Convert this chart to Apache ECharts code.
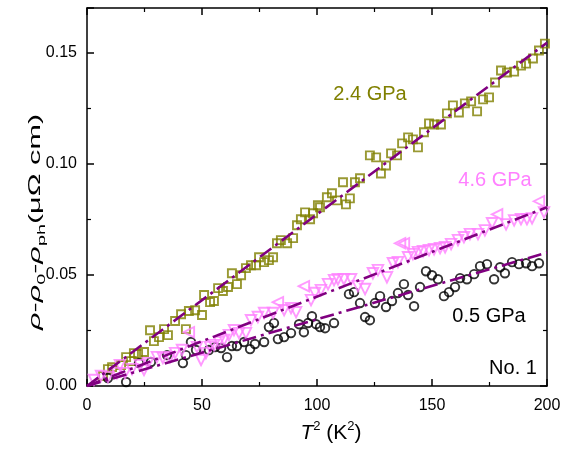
<!DOCTYPE html>
<html>
<head>
<meta charset="utf-8">
<title>rho vs T2</title>
<script src="https://cdn.jsdelivr.net/npm/echarts@6/dist/echarts.min.js"></script>
<style>
  html, body { margin: 0; padding: 0; background: #fff; }
  #main { width: 580px; height: 449px; }
</style>
</head>
<body>
<div id="main"></div>
<script>
// ---- data: [T^2 (K^2), rho (uOhm cm)] ----
var p24 = [
  [7.0,0.0045],[9.1,0.0076],[10.9,0.0085],[14.8,0.0094],[17.0,0.013],[19.1,0.0112],[20.4,0.0148],
  [22.2,0.0144],[24.8,0.0153],[27.4,0.0251],[29.1,0.0202],[31.3,0.022],[33.5,0.0256],[35.2,0.0229],
  [38.3,0.0292],[40.9,0.0323],[43.0,0.0256],[44.3,0.0337],[47.0,0.0341],[50.0,0.0319],[50.9,0.0409],
  [53.5,0.0377],[55.2,0.0382],[57.0,0.044],[59.1,0.0427],[61.3,0.0445],[63.0,0.0507],[65.2,0.0458],
  [67.0,0.0498],[69.1,0.053],[71.3,0.0543],[73.5,0.0543],[74.8,0.0579],[77.0,0.0557],[79.1,0.0566],
  [80.9,0.0579],[82.6,0.0642],[84.3,0.0656],[87.0,0.0642],[89.6,0.0665],[91.3,0.0723],[93.0,0.075],
  [94.8,0.0781],[97.0,0.075],[98.3,0.0777],[100.4,0.0813],[101.3,0.0804],[104.3,0.0849],[106.5,0.0867],
  [108.7,0.0835],[111.3,0.0916],[112.6,0.0817],[114.3,0.0844],[116.5,0.0916],[118.7,0.0934],
  [123.0,0.1037],[125.7,0.1028],[127.8,0.0956],[130.0,0.0992],[132.2,0.1046],[134.8,0.1037],
  [137.0,0.1091],[139.6,0.1118],[141.7,0.1109],[143.9,0.1073],[146.5,0.1141],[148.7,0.1181],
  [150.9,0.1176],[153.9,0.1176],[156.5,0.1226],[159.1,0.1262],[161.7,0.123],[164.3,0.1271],
  [167.0,0.128],[169.6,0.1235],[172.2,0.1289],[174.8,0.1298],[177.4,0.1365],[180.0,0.1419],
  [182.6,0.141],[185.7,0.1414],[188.7,0.1441],[190.9,0.145],[193.9,0.1473],[196.5,0.1509],[199.1,0.154]
];

var p05 = [
  [9.1,0.0036],[17.0,0.0018],[22.6,0.0103],[27.8,0.0108],[34.8,0.0139],[41.7,0.0103],[43.0,0.0139],
  [45.2,0.0198],[47.4,0.0162],[53.0,0.0162],[55.7,0.0175],[58.3,0.0171],[60.9,0.013],[63.0,0.018],
  [65.2,0.018],[68.3,0.0198],[70.9,0.0166],[73.0,0.0189],[77.0,0.0198],[79.1,0.0265],[81.3,0.0283],
  [83.0,0.0211],[85.7,0.022],[88.7,0.0238],[92.2,0.0278],[94.3,0.0242],[96.1,0.0283],[97.8,0.0314],
  [99.6,0.0278],[101.3,0.0265],[103.5,0.026],[107.4,0.0283],[113.9,0.0413],[116.1,0.0422],
  [118.7,0.0373],[120.9,0.031],[123.0,0.0296],[125.2,0.0373],[127.4,0.0404],[130.0,0.0355],
  [132.6,0.0382],[135.2,0.0418],[137.8,0.0458],[139.6,0.0409],[142.2,0.0359],[144.8,0.0445],
  [147.4,0.0516],[150.0,0.0498],[152.6,0.048],[155.2,0.0404],[157.4,0.0422],[160.0,0.0445],
  [162.2,0.0485],[165.2,0.048],[168.3,0.0503],[170.9,0.0539],[173.9,0.0548],[177.0,0.048],
  [179.6,0.0534],[181.7,0.0507],[184.8,0.0557],[187.8,0.0548],[190.9,0.0552],[193.5,0.0539],[196.5,0.0552]
];

// 4.6 GPa, down-pointing triangles
var p46 = [
  [3.0,0.0027],[6.1,0.0045],[9.1,0.004],[13.0,0.0058],[14.3,0.0094],[16.5,0.0058],[19.6,0.0076],
  [23.0,0.0094],[24.8,0.0072],[26.5,0.0103],[30.4,0.013],[33.0,0.0126],[36.1,0.013],[38.3,0.0148],
  [41.3,0.0162],[47.8,0.0175],[49.6,0.0117],[51.7,0.0148],[53.5,0.0175],[55.2,0.0184],[57.4,0.0198],
  [59.6,0.0207],[61.7,0.0229],[63.9,0.0251],[66.1,0.0238],[69.1,0.0238],[71.3,0.0296],[74.3,0.031],
  [77.0,0.0328],[80.9,0.0328],[85.7,0.0341],[88.7,0.035],[90.9,0.0332],[97.4,0.0386],[99.1,0.0418],
  [101.7,0.0431],[104.8,0.0458],[107.4,0.0476],[109.1,0.048],[111.7,0.048],[114.8,0.048],
  [117.8,0.0449],[120.9,0.0436],[124.3,0.0507],[126.5,0.0521],[130.4,0.0489],[133.0,0.0552],
  [135.2,0.0557],[139.6,0.0579],[141.7,0.0593],[143.9,0.0602],[146.1,0.0606],[148.7,0.0611],
  [150.9,0.0615],[153.5,0.062],[155.7,0.0624],[158.3,0.0638],[161.3,0.0656],[163.9,0.0669],
  [166.5,0.0683],[170.0,0.0683],[173.0,0.07],[176.1,0.0732],[182.2,0.0727],[185.7,0.0745],
  [188.7,0.075],[191.3,0.075],[193.5,0.0754],[198.7,0.0781]
];
// 4.6 GPa, left-pointing triangles
var p46b = [
  [44.3,0.0242],[83.0,0.0377],[94.3,0.0449],[136.1,0.0642],[137.8,0.0642],[178.3,0.0772],[196.5,0.0831]
];

// fitted T^2 lines (end points)
var fit24 = [[0,0],[200,0.1544]];
var fit46 = [[0,0],[200,0.0804]];
var fit05 = [[0,0],[200,0.0600]];

var yTicks = [0, 0.05, 0.10, 0.15];

var olive = '#808000';
var pink = '#ff80ff';
var purple = '#800080';
var font = 'Liberation Sans, Arial, sans-serif';

var myChart = echarts.init(document.getElementById('main'));

function axisCommon() {
  return {
    axisLine: {show: true, onZero: false, lineStyle: {color: '#000', width: 1.5}},
    axisTick: {show: true, inside: true, length: 7, lineStyle: {color: '#000', width: 1.5}},
    minorTick: {show: true, splitNumber: 2, length: 4, lineStyle: {color: '#000', width: 1.2}},
    splitLine: {show: false},
    axisLabel: {show: false}
  };
}

function scatter(name, data, symbol, rotate, color, size) {
  return {
    name: name, type: 'scatter', data: data,
    symbol: symbol, symbolSize: size, symbolRotate: rotate,
    itemStyle: {color: 'rgba(0,0,0,0)', borderColor: color, borderWidth: 1.9},
    z: 2
  };
}

function fitLine(name, data) {
  return {
    name: name, type: 'line', data: data, symbol: 'none',
    lineStyle: {color: purple, width: 2.6, type: [14, 5, 3, 5]},
    z: 3
  };
}

var xBottom = Object.assign(axisCommon(), {
  type: 'value', position: 'bottom', min: 0, max: 200, interval: 50
});
xBottom.axisLabel = {show: true, margin: 12, fontSize: 16, color: '#000', fontFamily: font};

var xTop = Object.assign(axisCommon(), {
  type: 'value', position: 'top', min: 0, max: 200, interval: 50
});

var yLeft = Object.assign(axisCommon(), {
  type: 'value', position: 'left', min: 0, max: 0.17, interval: 0.05
});
yLeft.axisLabel = {
  show: true, margin: 10, fontSize: 16, color: '#000', fontFamily: font, showMaxLabel: false,
  formatter: function (v) { return yTicks.indexOf(Math.round(v * 100) / 100) >= 0 ? v.toFixed(2) : ''; }
};

var yRight = Object.assign(axisCommon(), {
  type: 'value', position: 'right', min: 0, max: 0.17, interval: 0.05
});

var option = {
  backgroundColor: '#fff',
  animation: false,
  grid: {left: 87, right: 33, top: 8, bottom: 63},
  xAxis: [xBottom, xTop],
  yAxis: [yLeft, yRight],
  series: [
    scatter('2.4 GPa', p24, 'rect', 0, olive, 8),
    scatter('0.5 GPa', p05, 'circle', 0, '#000', 8.5),
    scatter('4.6 GPa', p46, 'triangle', 180, pink, 10.5),
    scatter('4.6 GPa b', p46b, 'triangle', 90, pink, 10.5),
    fitLine('fit 2.4', fit24),
    fitLine('fit 4.6', fit46),
    fitLine('fit 0.5', fit05)
  ],
  graphic: [
    {
      // y title is drawn stretched along its length, as in the figure
      type: 'text', x: 35, y: 222, rotation: Math.PI / 2, scaleX: 1.8,
      style: {
        text: '{r|ρ}{n|-}{r|ρ}{s|0}{n|-}{r|ρ}{s|ph}{n|(μΩ cm)}',
        align: 'center', verticalAlign: 'middle', fill: '#000',
        rich: {
          r: {fontStyle: 'italic', fontSize: 17, fontFamily: font, fill: '#000', lineHeight: 24},
          n: {fontSize: 17, fontFamily: font, fill: '#000', lineHeight: 24},
          s: {fontSize: 11, fontFamily: font, fill: '#000', verticalAlign: 'bottom', lineHeight: 24}
        }
      }
    },
    {
      type: 'text', x: 331, y: 433,
      style: {
        text: '{r|T}{p|2}{n| (K}{p|2}{n|)}',
        align: 'center', verticalAlign: 'middle', fill: '#000',
        rich: {
          r: {fontStyle: 'italic', fontSize: 21, fontFamily: font, fill: '#000', lineHeight: 26},
          n: {fontSize: 21, fontFamily: font, fill: '#000', lineHeight: 26},
          p: {fontSize: 13, fontFamily: font, fill: '#000', verticalAlign: 'top', lineHeight: 26}
        }
      }
    },
    {type: 'text', x: 370, y: 94, style: {text: '2.4 GPa', fontSize: 20, fontFamily: font, fill: olive, align: 'center', verticalAlign: 'middle'}},
    {type: 'text', x: 495, y: 180, style: {text: '4.6 GPa', fontSize: 20, fontFamily: font, fill: pink, align: 'center', verticalAlign: 'middle'}},
    {type: 'text', x: 489, y: 316, style: {text: '0.5 GPa', fontSize: 20, fontFamily: font, fill: '#000', align: 'center', verticalAlign: 'middle'}},
    {type: 'text', x: 513, y: 368, style: {text: 'No. 1', fontSize: 20, fontFamily: font, fill: '#000', align: 'center', verticalAlign: 'middle'}}
  ]
};

myChart.setOption(option);
</script>
</body>
</html>
